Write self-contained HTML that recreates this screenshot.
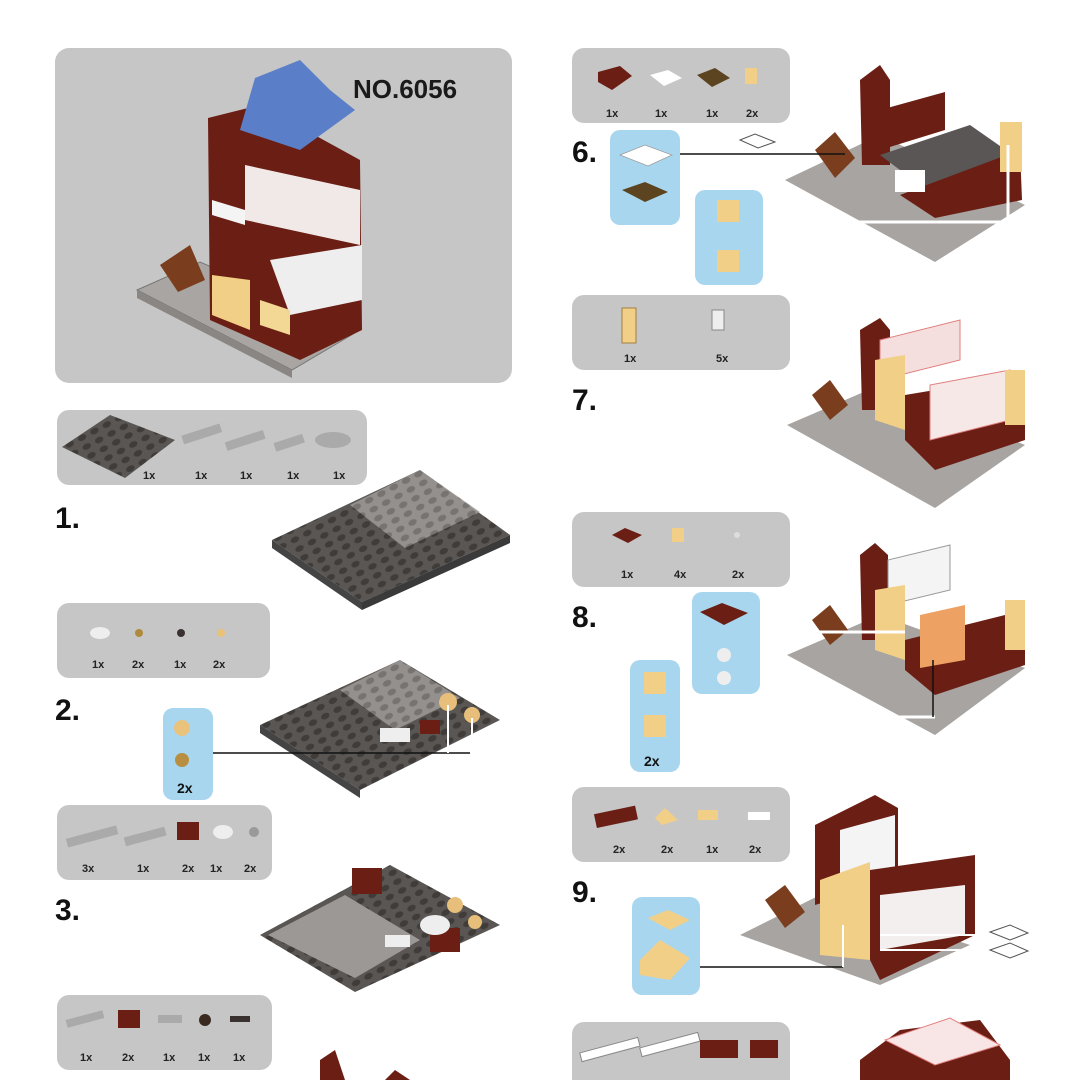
<!DOCTYPE html>
<html><head><meta charset="utf-8"><style>
html,body{margin:0;padding:0;background:#fff}
svg{display:block}
text{font-family:"Liberation Sans",Arial,sans-serif}
.n{font-size:30px;font-weight:bold;fill:#111}
.q{font-size:11px;font-weight:bold;fill:#222}
</style></head><body>
<svg width="1080" height="1080" viewBox="0 0 1080 1080" xmlns="http://www.w3.org/2000/svg">
<defs>
<pattern id="studs" width="14" height="10" patternUnits="userSpaceOnUse" patternTransform="rotate(-28)">
<rect width="14" height="10" fill="#5a5654"/><ellipse cx="7" cy="5" rx="4.5" ry="3" fill="#403c3a"/></pattern>
<pattern id="studsL" width="14" height="10" patternUnits="userSpaceOnUse" patternTransform="rotate(-28)">
<rect width="14" height="10" fill="#a29e9b"/><ellipse cx="7" cy="5" rx="4.5" ry="3" fill="#85817e"/></pattern>
</defs>
<!-- cover -->
<rect x="55" y="48" width="457" height="335" rx="14" fill="#c6c6c6"/>
<text x="353" y="98" font-size="26" font-weight="bold" fill="#1a1a1a">NO.6056</text>
<polygon points="137,290 200,262 360,330 292,370" fill="#a9a5a2" stroke="#777" stroke-width="1"/>
<polygon points="137,290 292,370 292,378 137,298" fill="#8a8684"/>
<polygon points="208,118 260,105 360,160 362,330 300,360 210,320" fill="#6b1e14"/>
<polygon points="245,165 360,190 360,245 245,220" fill="#ffffff" opacity="0.9"/>
<polygon points="212,200 245,210 245,225 212,215" fill="#f4f4f4"/>
<polygon points="212,275 250,280 250,330 212,315" fill="#f1cf86"/>
<polygon points="270,260 362,245 362,300 290,315" fill="#eeeeee"/>
<polygon points="260,300 290,310 290,335 260,325" fill="#f3d795"/>
<polygon points="255,78 300,60 330,90 355,110 300,150 240,130" fill="#5a7fc8"/>
<polygon points="160,265 190,245 205,280 178,292" fill="#7a3e1f"/>
<!-- parts 1 -->
<rect x="57" y="410" width="310" height="75" rx="12" fill="#c6c6c6"/>
<polygon points="62,447 110,415 175,440 125,478" fill="url(#studs)"/>
<rect x="182" y="430" width="40" height="9" fill="#aaa" transform="rotate(-18 200 435)"/>
<rect x="225" y="436" width="40" height="9" fill="#aaa" transform="rotate(-18 245 440)"/>
<rect x="274" y="438" width="30" height="9" fill="#aaa" transform="rotate(-18 290 442)"/>
<ellipse cx="333" cy="440" rx="18" ry="8" fill="#aaa"/>
<text class="q" x="143" y="479">1x</text><text class="q" x="195" y="479">1x</text><text class="q" x="240" y="479">1x</text><text class="q" x="287" y="479">1x</text><text class="q" x="333" y="479">1x</text>
<text class="n" x="55" y="528">1.</text>
<polygon points="272,540 420,470 510,535 362,602" fill="url(#studs)"/>
<polygon points="350,505 420,470 480,512 405,548" fill="url(#studsL)" opacity="0.8"/>
<polygon points="272,540 362,602 362,610 272,548" fill="#444"/><polygon points="362,602 510,535 510,543 362,610" fill="#3a3a3a"/>
<!-- parts 2 -->
<rect x="57" y="603" width="213" height="75" rx="12" fill="#c6c6c6"/>
<ellipse cx="100" cy="633" rx="10" ry="6" fill="#eee"/><circle cx="139" cy="633" r="4" fill="#b08a3c"/><circle cx="181" cy="633" r="4" fill="#3a3230"/><circle cx="221" cy="633" r="4" fill="#e8c276"/>
<text class="q" x="92" y="668">1x</text><text class="q" x="132" y="668">2x</text><text class="q" x="174" y="668">1x</text><text class="q" x="213" y="668">2x</text>
<text class="n" x="55" y="720">2.</text>
<rect x="163" y="708" width="50" height="92" rx="10" fill="#a9d6ef"/>
<circle cx="182" cy="728" r="8" fill="#e9c27b"/><circle cx="182" cy="760" r="7" fill="#b88f40"/>
<text x="177" y="793" font-size="14" font-weight="bold" fill="#111">2x</text>
<polygon points="260,725 400,660 500,720 360,790" fill="url(#studs)"/>
<polygon points="340,690 400,660 460,698 395,730" fill="url(#studsL)" opacity="0.8"/>
<polygon points="260,725 360,790 360,798 260,733" fill="#444"/>
<circle cx="448" cy="702" r="9" fill="#e7bf7a"/><circle cx="472" cy="715" r="8" fill="#e7bf7a"/>
<rect x="380" y="728" width="30" height="14" fill="#eee"/><rect x="420" y="720" width="20" height="14" fill="#6b1e14"/>
<line x1="213" y1="753" x2="470" y2="753" stroke="#111" stroke-width="1.5"/>
<line x1="448" y1="705" x2="448" y2="753" stroke="#fff" stroke-width="2"/><line x1="472" y1="718" x2="472" y2="753" stroke="#fff" stroke-width="2"/>
<!-- parts 3 -->
<rect x="57" y="805" width="215" height="75" rx="12" fill="#c6c6c6"/>
<rect x="66" y="832" width="52" height="9" fill="#aaa" transform="rotate(-15 92 836)"/><rect x="124" y="832" width="42" height="9" fill="#aaa" transform="rotate(-15 145 836)"/>
<rect x="177" y="822" width="22" height="18" fill="#6b1e14"/><ellipse cx="223" cy="832" rx="10" ry="7" fill="#eee"/><circle cx="254" cy="832" r="5" fill="#999"/>
<text class="q" x="82" y="872">3x</text><text class="q" x="137" y="872">1x</text><text class="q" x="182" y="872">2x</text><text class="q" x="210" y="872">1x</text><text class="q" x="244" y="872">2x</text>
<text class="n" x="55" y="920">3.</text>
<polygon points="260,935 390,865 500,925 355,992" fill="url(#studs)"/>
<polygon points="268,935 345,895 420,940 355,978" fill="#9c9896"/>
<rect x="352" y="868" width="30" height="26" fill="#6b1e14"/><rect x="430" y="928" width="30" height="24" fill="#6b1e14"/>
<ellipse cx="435" cy="925" rx="15" ry="10" fill="#eee"/><circle cx="455" cy="905" r="8" fill="#e7bf7a"/><circle cx="475" cy="922" r="7" fill="#e7bf7a"/>
<rect x="385" y="935" width="25" height="12" fill="#eee"/>
<!-- parts 4 -->
<rect x="57" y="995" width="215" height="75" rx="12" fill="#c6c6c6"/>
<rect x="66" y="1015" width="38" height="8" fill="#aaa" transform="rotate(-15 85 1019)"/><rect x="118" y="1010" width="22" height="18" fill="#6b1e14"/>
<rect x="158" y="1015" width="24" height="8" fill="#aaa"/><circle cx="205" cy="1020" r="6" fill="#3a2a22"/><rect x="230" y="1016" width="20" height="6" fill="#3a3230"/>
<text class="q" x="80" y="1061">1x</text><text class="q" x="122" y="1061">2x</text><text class="q" x="163" y="1061">1x</text><text class="q" x="198" y="1061">1x</text><text class="q" x="233" y="1061">1x</text>
<polygon points="320,1060 335,1050 345,1080 320,1080" fill="#6b1e14"/><polygon points="385,1080 395,1070 410,1080" fill="#6b1e14"/>
<!-- parts 6 -->
<rect x="572" y="48" width="218" height="75" rx="12" fill="#c6c6c6"/>
<polygon points="598,72 620,66 632,76 612,90 598,82" fill="#6b1e14"/><polygon points="650,75 668,70 682,78 664,86" fill="#fff"/>
<polygon points="697,75 715,68 730,78 712,87" fill="#5c4420"/><rect x="745" y="68" width="12" height="16" fill="#f1cf86"/>
<text class="q" x="606" y="117">1x</text><text class="q" x="655" y="117">1x</text><text class="q" x="706" y="117">1x</text><text class="q" x="746" y="117">2x</text>
<text class="n" x="572" y="162">6.</text>
<rect x="610" y="130" width="70" height="95" rx="10" fill="#a9d6ef"/>
<polygon points="620,155 645,145 672,155 648,166" fill="#fff" stroke="#999" stroke-width="0.7"/>
<polygon points="622,190 645,182 668,192 645,202" fill="#5c4420"/>
<rect x="695" y="190" width="68" height="95" rx="10" fill="#a9d6ef"/>
<rect x="717" y="200" width="22" height="22" fill="#f1cf86"/><rect x="717" y="250" width="22" height="22" fill="#f1cf86"/>
<polygon points="740,140 755,134 775,142 758,148" fill="none" stroke="#555"/>
<polygon points="785,180 880,135 1025,205 935,262" fill="#a8a4a1"/>
<polygon points="860,80 880,65 890,80 890,165 862,165" fill="#6b1e14"/>
<polygon points="880,110 945,92 945,130 880,150" fill="#6b1e14"/>
<polygon points="880,155 970,125 1020,160 940,200" fill="#5a5655"/>
<polygon points="900,195 1020,150 1022,200 935,218" fill="#6b1e14"/>
<rect x="1000" y="122" width="22" height="50" fill="#f1cf86"/>
<polygon points="815,150 835,132 855,158 835,178" fill="#7a3e1f"/>
<rect x="895" y="170" width="30" height="22" fill="#fff"/>
<line x1="680" y1="154" x2="845" y2="154" stroke="#111" stroke-width="1.5"/>
<line x1="830" y1="222" x2="1010" y2="222" stroke="#fff" stroke-width="3"/><line x1="1008" y1="145" x2="1008" y2="222" stroke="#fff" stroke-width="3"/>
<!-- parts 7 -->
<rect x="572" y="295" width="218" height="75" rx="12" fill="#c6c6c6"/>
<rect x="622" y="308" width="14" height="35" fill="#f1cf86" stroke="#a08040"/><rect x="712" y="310" width="12" height="20" fill="#eee" stroke="#888"/>
<text class="q" x="624" y="362">1x</text><text class="q" x="716" y="362">5x</text>
<text class="n" x="572" y="410">7.</text>
<polygon points="787,425 880,385 1025,445 935,508" fill="#a8a4a1"/>
<polygon points="860,330 880,318 890,330 890,410 862,410" fill="#6b1e14"/>
<polygon points="880,340 960,320 960,360 880,380" fill="#f5dede" stroke="#e08080"/>
<polygon points="875,360 905,355 905,430 875,420" fill="#f1cf86"/>
<polygon points="905,395 1025,375 1025,440 935,470 905,440" fill="#6b1e14"/>
<polygon points="930,385 1010,370 1010,420 930,440" fill="#f7e8e8" stroke="#e08080"/>
<rect x="1005" y="370" width="20" height="55" fill="#f1cf86"/>
<polygon points="812,395 830,380 848,405 830,420" fill="#7a3e1f"/>
<!-- parts 8 -->
<rect x="572" y="512" width="218" height="75" rx="12" fill="#c6c6c6"/>
<polygon points="612,535 625,528 642,535 628,543" fill="#6b1e14"/><rect x="672" y="528" width="12" height="14" fill="#f1cf86"/><circle cx="737" cy="535" r="3" fill="#ddd"/>
<text class="q" x="621" y="578">1x</text><text class="q" x="674" y="578">4x</text><text class="q" x="732" y="578">2x</text>
<text class="n" x="572" y="627">8.</text>
<rect x="692" y="592" width="68" height="102" rx="10" fill="#a9d6ef"/>
<polygon points="700,612 722,603 748,613 724,625" fill="#6b1e14"/><circle cx="724" cy="655" r="7" fill="#eee"/><circle cx="724" cy="678" r="7" fill="#eee"/>
<rect x="630" y="660" width="50" height="112" rx="10" fill="#a9d6ef"/>
<rect x="644" y="672" width="22" height="22" fill="#f1cf86"/><rect x="644" y="715" width="22" height="22" fill="#f1cf86"/>
<text x="644" y="766" font-size="14" font-weight="bold" fill="#111">2x</text>
<polygon points="787,655 880,615 1025,668 935,735" fill="#a8a4a1"/>
<polygon points="860,555 875,543 888,555 888,640 862,640" fill="#6b1e14"/>
<polygon points="888,560 950,545 950,590 888,605" fill="#f4f4f4" stroke="#999"/>
<polygon points="875,590 905,585 905,660 875,650" fill="#f1cf86"/>
<polygon points="905,640 1025,610 1025,665 935,695 905,670" fill="#6b1e14"/>
<polygon points="920,615 965,605 965,660 920,668" fill="#eda163"/>
<rect x="1005" y="600" width="20" height="50" fill="#f1cf86"/>
<polygon points="812,620 830,605 848,630 830,645" fill="#7a3e1f"/>
<line x1="810" y1="632" x2="905" y2="632" stroke="#fff" stroke-width="3"/>
<line x1="843" y1="717" x2="935" y2="717" stroke="#fff" stroke-width="3"/><line x1="933" y1="660" x2="933" y2="717" stroke="#111" stroke-width="1.5"/>
<!-- parts 9 -->
<rect x="572" y="787" width="218" height="75" rx="12" fill="#c6c6c6"/>
<rect x="595" y="810" width="42" height="14" fill="#6b1e14" transform="rotate(-12 615 817)"/><polygon points="655,818 665,808 678,820 662,825" fill="#f1cf86"/>
<rect x="698" y="810" width="20" height="10" fill="#f1cf86"/><rect x="748" y="812" width="22" height="8" fill="#fff"/>
<text class="q" x="613" y="853">2x</text><text class="q" x="661" y="853">2x</text><text class="q" x="706" y="853">1x</text><text class="q" x="749" y="853">2x</text>
<text class="n" x="572" y="902">9.</text>
<rect x="632" y="897" width="68" height="98" rx="10" fill="#a9d6ef"/>
<polygon points="648,918 668,910 690,920 670,930" fill="#f1cf86"/><polygon points="640,960 660,940 690,958 670,980 640,975" fill="#f1cf86"/>
<polygon points="740,935 820,895 970,945 880,985" fill="#a8a4a1"/>
<polygon points="815,825 875,795 898,808 898,880 815,905" fill="#6b1e14"/>
<polygon points="840,830 895,815 895,870 840,880" fill="#f4f4f4"/>
<polygon points="820,880 870,862 870,960 820,955" fill="#f1cf86"/>
<polygon points="870,870 975,855 975,935 880,980 870,960" fill="#6b1e14"/>
<polygon points="880,895 965,885 965,935 880,950" fill="#f3efee"/>
<polygon points="765,900 785,885 805,912 785,928" fill="#7a3e1f"/>
<line x1="700" y1="967" x2="843" y2="967" stroke="#111" stroke-width="1.5"/><line x1="843" y1="925" x2="843" y2="967" stroke="#fff" stroke-width="2"/>
<line x1="880" y1="935" x2="1000" y2="935" stroke="#fff" stroke-width="2"/><line x1="880" y1="950" x2="1000" y2="950" stroke="#fff" stroke-width="2"/>
<polygon points="990,932 1010,925 1028,933 1010,940" fill="none" stroke="#555"/><polygon points="990,950 1010,943 1028,951 1010,958" fill="none" stroke="#555"/>
<!-- parts 10 -->
<rect x="572" y="1022" width="218" height="70" rx="12" fill="#c6c6c6"/>
<rect x="580" y="1045" width="60" height="9" fill="#fff" stroke="#888" transform="rotate(-15 610 1050)"/><rect x="640" y="1040" width="60" height="9" fill="#fff" stroke="#888" transform="rotate(-15 670 1045)"/>
<rect x="700" y="1040" width="38" height="18" fill="#6b1e14"/><rect x="750" y="1040" width="28" height="18" fill="#6b1e14"/>
<polygon points="860,1060 900,1030 980,1020 1010,1060 1010,1080 860,1080" fill="#6b1e14"/>
<polygon points="885,1040 950,1018 1000,1045 935,1065" fill="#f8e6e6" stroke="#e08080"/>
</svg>
</body></html>
